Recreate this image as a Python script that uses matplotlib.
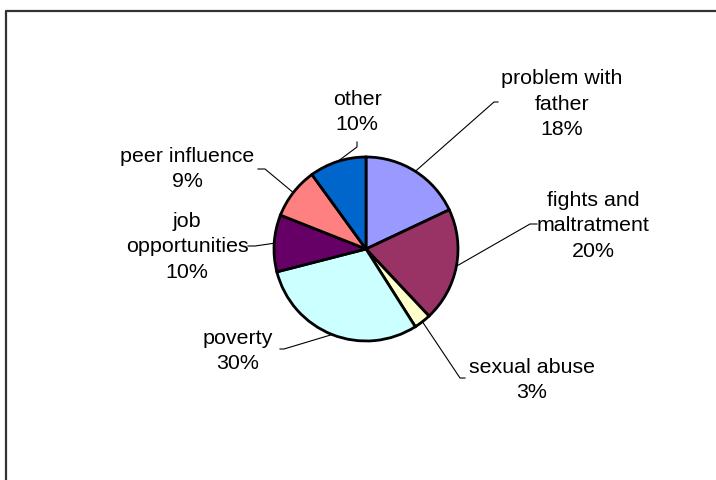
import numpy as np
import matplotlib.pyplot as plt

plt.rcParams['font.family'] = ['Liberation Sans', 'DejaVu Sans']

# data
categories = ["problem with\nfather", "fights and\nmaltratment", "sexual abuse",
              "poverty", "job\nopportunities", "peer influence", "other"]
shares = [18, 20, 3, 30, 10, 9, 10]
COLORS = ["#9999FF", "#993366", "#FFFFCC", "#CCFFFF", "#660066", "#FF8080", "#0066CC"]

W, H = 716, 481
CX, CY, R = 366, 250, 92          # pie centre / radius in pixel coords (y down)

# label text centre, and where the leader line leaves the text (pixel coords, y down)
label_pos = [(562, 104), (593, 226), (532, 380), (238, 351), (187, 247), (187, 169), (357, 112)]
leader_start = [[(498, 103), (494, 103)],
                [(537, 225), (530, 225)],
                [(465, 379), (460, 379)],
                [(280, 350), (284, 350)],
                [(248, 247), (255, 247)],
                [(258, 170), (265, 170)],
                [(357, 143), (357, 148)]]
font_size = 15.4


def fy(y):
    return H - y


fig = plt.figure(figsize=(W / 100, H / 100), dpi=100)
ax = fig.add_axes([0, 0, 1, 1])

wedges, _ = ax.pie(shares, colors=COLORS, startangle=90, counterclock=False,
                   center=(CX, fy(CY)), radius=R,
                   wedgeprops=dict(edgecolor='black', linewidth=2.0))

ax.set_xlim(0, W)
ax.set_ylim(0, H)
ax.set_aspect('equal')
ax.axis('off')

for i, w in enumerate(wedges):
    mid = np.deg2rad((w.theta1 + w.theta2) / 2)
    ex = CX + R * np.cos(mid)
    ey = fy(CY) + R * np.sin(mid)
    pts = leader_start[i]
    xs = [p[0] for p in pts] + [ex]
    ys = [fy(p[1]) for p in pts] + [ey]
    ax.plot(xs, ys, color='black', lw=0.8, zorder=0.5)
    tx, ty = label_pos[i]
    ax.text(tx, fy(ty), f"{categories[i]}\n{shares[i]}%", ha='center', va='center',
            fontsize=font_size, linespacing=1.42, color='black')

# chart area border (cut off at right and bottom)
ax.plot([6, 6, W + 5], [-5, fy(12), fy(12)], color='#333333', lw=1.6, clip_on=False)

fig.savefig("out.png", dpi=100)
